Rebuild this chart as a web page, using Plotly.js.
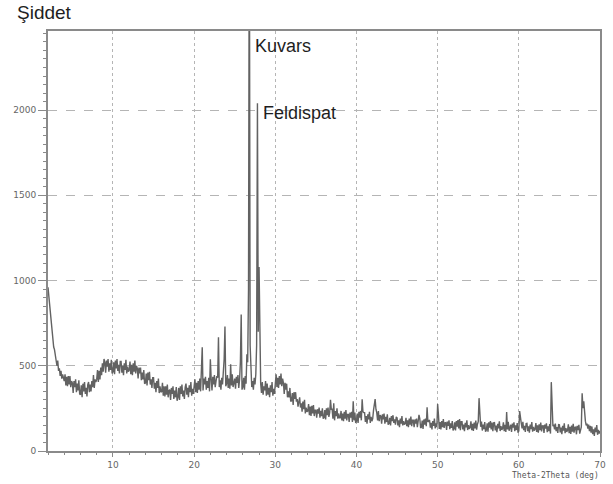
<!DOCTYPE html>
<html>
<head>
<meta charset="utf-8">
<script src="https://cdn.plot.ly/plotly-3.0.1.min.js"></script>
<style>html,body{margin:0;padding:0;background:#fff}#chart{width:613px;height:484px}</style>
</head>
<body>
<div id="chart"></div>
<script>
// 2-theta starts at 2.0 deg, step 0.1 deg
const thetaStart = 2.0;
const thetaStep = 0.1;

const int02to10 = [
  960,910,840,775,730,680,660,610,595,555,
  545,500,530,470,485,440,470,425,450,420,
  410,450,385,435,380,440,390,440,375,410,
  400,340,410,375,420,345,395,355,415,335,
  330,385,315,395,350,405,335,370,320,390,
  405,345,390,350,410,375,445,370,420,405,
  420,475,405,470,420,490,445,515,465,540,
  520,460,530,495,540,465,515,475,535,455
];
// 10.0 - 19.9 deg
const int10to20 = [
  465,520,450,530,485,540,470,505,455,525,
  525,460,500,445,515,475,535,455,495,465,
  475,525,450,505,445,515,465,530,455,500,
  485,425,490,455,490,415,460,420,475,395,
  400,455,385,460,415,465,390,420,370,430,
  430,365,400,345,410,370,425,340,380,345,
  350,400,325,380,320,380,330,390,315,355,
  360,300,370,335,380,305,355,315,375,295,
  315,370,300,380,335,390,320,355,305,375,
  395,330,370,315,385,345,405,325,365,335
];
// 20.0 - 29.9 deg (quartz ~26.8, feldspar ~27.8)
const int20to30 = [
  370,420,345,400,340,410,360,425,350,445,
  608,355,425,390,435,360,410,370,430,350,
  538,425,355,435,390,445,375,410,440,430,
  667,375,415,360,430,390,450,540,731,380,
  395,445,370,425,365,509,385,450,375,420,
  425,365,435,400,445,370,420,520,801,360,
  375,430,360,440,395,567,520,950,3300,620,
  440,375,410,360,430,390,450,620,2040,700,
  1080,560,395,340,405,330,380,355,410,325,
  395,330,370,315,385,345,405,325,365,335
];
// 30.0 - 39.9 deg
const int30to40 = [
  400,450,375,430,370,440,390,455,380,425,
  400,335,400,360,395,315,350,315,370,290,
  295,340,270,345,305,345,290,305,260,310,
  315,255,280,230,290,245,300,220,255,230,
  235,275,210,260,205,265,220,270,205,240,
  240,195,245,220,255,195,235,205,250,190,
  195,240,185,250,210,255,200,225,300,245,
  245,190,280,180,235,205,250,190,220,195,
  195,235,180,220,175,230,190,240,180,215,
  215,170,225,195,230,170,292,180,225,165
];
// 40.0 - 49.9 deg
const int40to50 = [
  175,220,165,230,195,235,180,304,230,225,
  225,170,205,160,215,185,230,165,200,175,
  190,240,270,304,245,225,180,235,175,210,
  205,160,215,185,220,160,200,170,215,155,
  160,195,150,205,175,210,165,185,155,200,
  195,150,180,140,190,160,205,150,175,155,
  160,195,145,180,140,190,155,202,145,180,
  180,140,185,160,190,140,175,212,190,135,
  140,178,130,185,155,190,145,257,170,180,
  182,137,165,127,175,148,190,133,162,140
];
// 50.0 - 59.9 deg
const int50to60 = [
  275,212,130,170,127,175,140,187,135,165,
  166,124,173,148,180,128,162,135,176,120,
  130,168,120,175,143,182,133,187,122,172,
  172,127,155,117,165,138,180,123,152,130,
  139,174,122,160,118,167,132,178,125,157,
  172,310,180,142,173,120,155,128,170,113,
  123,162,113,168,137,175,127,167,116,165,
  166,121,149,111,159,132,174,117,146,124,
  133,168,116,154,112,228,126,171,119,151,
  154,112,161,137,168,116,150,123,164,108
];
// 60.0 - 70.0 deg
const int60to70 = [
  118,234,172,164,133,171,122,147,112,161,
  162,117,145,107,155,128,170,113,142,120,
  129,164,112,150,108,157,122,167,115,147,
  148,106,155,131,162,110,144,117,158,102,
  404,232,145,155,127,161,116,141,106,155,
  154,109,137,99,147,120,162,105,134,112,
  121,156,104,142,100,149,114,160,107,139,
  140,98,147,123,154,102,136,142,339,252,
  292,202,175,150,160,131,155,117,148,108,
  144,99,127,89,137,110,152,95,124,102,
  117
];

const intensity = [].concat(int02to10, int10to20, int20to30, int30to40, int40to50, int50to60, int60to70);

const xTicks = [10, 20, 30, 40, 50, 60, 70];
const yTicks = [0, 500, 1000, 1500, 2000];
const yLabel = 'Şiddet';
const xLabel = 'Theta-2Theta (deg)';
const peakLabels = [
  {text: 'Kuvars', x: 27.25, y: 2376},
  {text: 'Feldispat', x: 28.24, y: 1983}
];

const trace = {
  type: 'scatter',
  mode: 'lines',
  x0: thetaStart,
  dx: thetaStep,
  y: intensity,
  line: {color: '#626262', width: 1.4},
  hoverinfo: 'skip'
};

const axisFont = {family: 'DejaVu Sans, sans-serif', size: 9, color: '#666'};

const layout = {
  width: 613,
  height: 484,
  margin: {l: 48, r: 13, t: 31, b: 33, pad: 0},
  paper_bgcolor: '#fff',
  plot_bgcolor: '#fff',
  showlegend: false,
  xaxis: {
    range: [2, 70],
    tickvals: xTicks,
    ticktext: xTicks.map(String),
    showline: true, linecolor: '#8a8a8a', linewidth: 2, mirror: true,
    ticks: 'outside', ticklen: 4, tickcolor: '#8a8a8a', tickwidth: 1,
    minor: {dtick: 2, ticks: 'outside', ticklen: 2, tickcolor: '#8a8a8a', showgrid: false},
    showgrid: true, gridcolor: '#b5b5b5', griddash: 'dot', gridwidth: 1,
    zeroline: false,
    tickfont: axisFont
  },
  yaxis: {
    range: [0, 2464],
    tickvals: yTicks,
    ticktext: yTicks.map(String),
    showline: true, linecolor: '#8a8a8a', linewidth: 2, mirror: true,
    ticks: 'outside', ticklen: 8, tickcolor: '#8a8a8a', tickwidth: 1,
    minor: {dtick: 50, ticks: 'outside', ticklen: 3, tickcolor: '#8a8a8a', showgrid: false},
    showgrid: true, gridcolor: '#b5b5b5', griddash: 'dash', gridwidth: 1,
    zeroline: false,
    tickfont: axisFont
  },
  annotations: [
    {text: yLabel, xref: 'paper', yref: 'paper', x: -0.06, y: 1.043, xanchor: 'left', yanchor: 'middle',
     showarrow: false, font: {family: 'Liberation Sans, Arial, sans-serif', size: 19, color: '#1e1e1e'}},
    {text: xLabel, xref: 'paper', yref: 'paper', x: 1.002, y: -0.058, xanchor: 'right', yanchor: 'middle',
     showarrow: false, font: {family: 'DejaVu Sans Mono, monospace', size: 8, color: '#555'}}
  ].concat(peakLabels.map(p => ({
    text: p.text, x: p.x, y: p.y, xref: 'x', yref: 'y', xanchor: 'left', yanchor: 'middle',
    showarrow: false, font: {family: 'Liberation Sans, Arial, sans-serif', size: 18, color: '#1e1e1e'}
  })))
};

Plotly.newPlot('chart', [trace], layout, {displayModeBar: false, staticPlot: true});
</script>
</body>
</html>
